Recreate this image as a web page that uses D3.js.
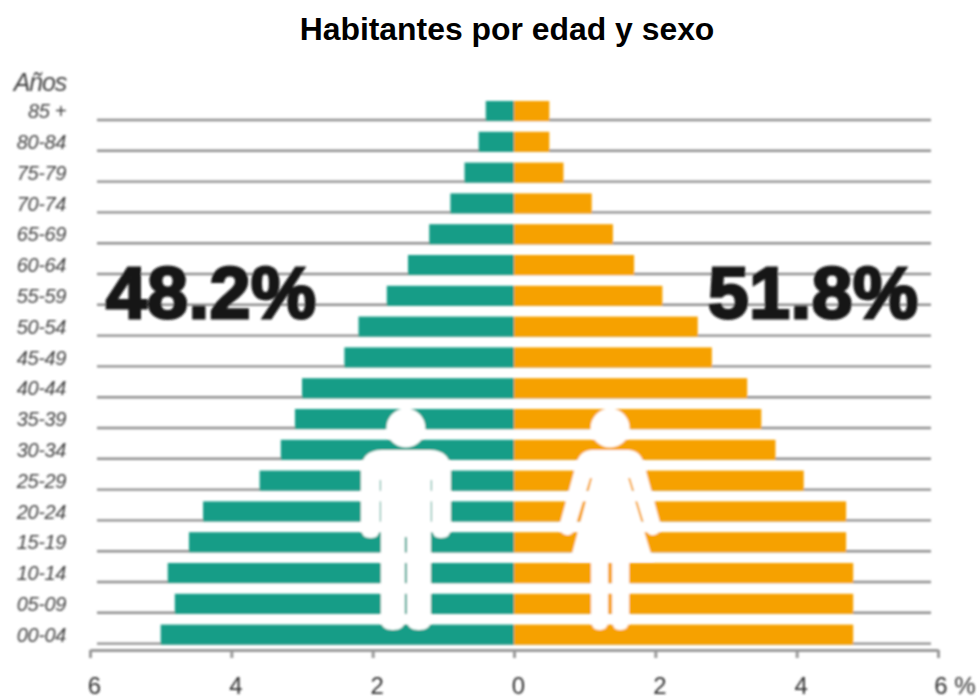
<!DOCTYPE html>
<html>
<head>
<meta charset="utf-8">
<script src="https://d3js.org/d3.v7.min.js"></script>
<style>
    body { margin: 0; background: #fff; }
    text { font-family: "Liberation Sans", Arial, sans-serif; }
</style>
</head>
<body>
<script>
    var ages = ["85 +","80-84","75-79","70-74","65-69","60-64","55-59","50-54","45-49","40-44","35-39","30-34","25-29","20-24","15-19","10-14","05-09","00-04"];
    var men = [0.4,0.5,0.7,0.9,1.2,1.5,1.8,2.2,2.4,3.0,3.1,3.3,3.6,4.4,4.6,4.9,4.8,5.0];
    var women = [0.5,0.5,0.7,1.1,1.4,1.7,2.1,2.6,2.8,3.3,3.5,3.7,4.1,4.7,4.7,4.8,4.8,4.8];
    var ticks = [-6,-4,-2,0,2,4,6];
    var title = "Habitantes por edad y sexo";
    var menShare = "48.2%";
    var womenShare = "51.8%";

    var width = 979;
    var height = 698;
    var teal = "#199d87";
    var orange = "#f6a100";

    var svg = d3.select("body")
    .append("svg")
    .attr("width", width)
    .attr("height", height)
    .style("display", "block");

    // the chart below the title is a soft, scaled up image in the original
    svg.append("defs")
    .append("filter")
    .attr("id", "soft")
    .append("feGaussianBlur")
    .attr("stdDeviation", 0.8);

    var scaleX = d3.scaleLinear()
    .domain([-6,6])
    .range([90,938]);

    var scaleY = d3.scaleBand()
    .domain(ages)
    .range([95.6,650])
    .paddingInner(.35)
    .paddingOuter(.175);

    svg.append("text")
    .attr("x", 507)
    .attr("y", 40)
    .attr("text-anchor", "middle")
    .style("font-size", "31.9px")
    .style("font-weight", "bold")
    .style("fill", "#000")
    .text(title);

    var chart = svg.append("g")
    .attr("filter", "url(#soft)");

    // grid lines sit under the bars
    chart.append("g")
    .selectAll("line")
    .data(ages)
    .enter()
    .append("line")
    .attr("x1", 97)
    .attr("x2", 931)
    .attr("y1", function(d){return scaleY(d)+scaleY.bandwidth()-1;})
    .attr("y2", function(d){return scaleY(d)+scaleY.bandwidth()-1;})
    .style("stroke", "#8f8f8f")
    .style("stroke-width", 2.4);

    chart.append("g")
    .selectAll("rect")
    .data(men)
    .enter()
    .append("rect")
    .attr("x", function(d){return scaleX(-d);})
    .attr("y", function(d,i){return scaleY(ages[i]);})
    .attr("width", function(d){return scaleX(0)-scaleX(-d);})
    .attr("height", scaleY.bandwidth())
    .style("fill", teal);

    chart.append("g")
    .selectAll("rect")
    .data(women)
    .enter()
    .append("rect")
    .attr("x", scaleX(0))
    .attr("y", function(d,i){return scaleY(ages[i]);})
    .attr("width", function(d){return scaleX(d)-scaleX(0);})
    .attr("height", scaleY.bandwidth())
    .style("fill", orange);

    // age labels
    var y = d3.axisLeft().scale(scaleY).tickSize(0);
    var yAxis = chart.append("g")
    .attr("transform", "translate(70,0)")
    .call(y);
    yAxis.select(".domain").remove();
    yAxis.selectAll("text")
    .attr("x", -4)
    .attr("dy", "0.36em")
    .style("font-family", "\"Liberation Sans\", Arial, sans-serif")
    .style("font-size", "20px")
    .style("font-style", "italic")
    .style("letter-spacing", "-0.4px")
    .style("fill", "#444");

    chart.append("text")
    .attr("x", 66)
    .attr("y", 91)
    .attr("text-anchor", "end")
    .style("font-size", "25px")
    .style("font-style", "italic")
    .style("letter-spacing", "-1.2px")
    .style("fill", "#444")
    .text("Años");

    // bottom axis
    var x = d3.axisBottom()
    .scale(scaleX)
    .tickValues(ticks)
    .tickSize(8)
    .tickSizeOuter(0)
    .tickFormat(function(d){return d==6 ? "6 %" : Math.abs(d);});
    var xAxis = chart.append("g")
    .attr("transform", "translate(0,650)")
    .call(x);
    xAxis.select(".domain").style("stroke", "#999").style("stroke-width", 3);
    xAxis.selectAll("line").style("stroke", "#999").style("stroke-width", 3);
    xAxis.selectAll("text")
    .attr("y", 27)
    .attr("dx", function(d){return d==6 ? 16.5 : 4;})
    .style("font-family", "\"Liberation Sans\", Arial, sans-serif")
    .style("font-size", "24px")
    .style("fill", "#333");

    // pictograms, drawn around the centre of the head
    var manPath = "M-24,22 H24 Q45,22 45,44 V100 Q45,110 35,110 Q26,110 26,100 V52 H25 V192 Q25,202 13,202 Q1,202 1,192 V109 H-1 V192 Q-1,202 -13,202 Q-25,202 -25,192 V52 H-26 V100 Q-26,110 -35,110 Q-45,110 -45,100 V44 Q-45,22 -24,22 Z";
    var womanPath = "M-18,22 H18 Q30,22 34,36 L50,95 Q52,105 44,107 Q38,108 36,102 L20,50 H18 L43,133 H19 V192 Q19,202 10,202 Q2,202 2,192 V133 H-2 V192 Q-2,202 -10,202 Q-19,202 -19,192 V133 H-40 L-18,50 H-20 L-36,102 Q-38,108 -44,107 Q-52,105 -50,95 L-34,36 Q-30,22 -18,22 Z";
    var icons = [{x:-1.53, path:manPath}, {x:1.36, path:womanPath}];

    var icon = chart.append("g")
    .selectAll("g")
    .data(icons)
    .enter()
    .append("g")
    .attr("transform", function(d){return "translate("+scaleX(d.x)+",428)";});
    icon.append("circle")
    .attr("r", 19.5)
    .style("fill", "#fff");
    icon.append("path")
    .attr("d", function(d){return d.path;})
    .style("fill", "#fff");

    // big shares
    chart.append("g")
    .selectAll("text")
    .data([{x:106, t:menShare}, {x:708, t:womenShare}])
    .enter()
    .append("text")
    .attr("x", function(d){return d.x;})
    .attr("y", 318)
    .attr("textLength", 210)
    .attr("lengthAdjust", "spacing")
    .style("font-size", "73px")
    .style("font-weight", "bold")
    .style("fill", "#151515")
    .style("stroke", "#151515")
    .style("stroke-width", 3)
    .text(function(d){return d.t;});
</script>
</body>
</html>
